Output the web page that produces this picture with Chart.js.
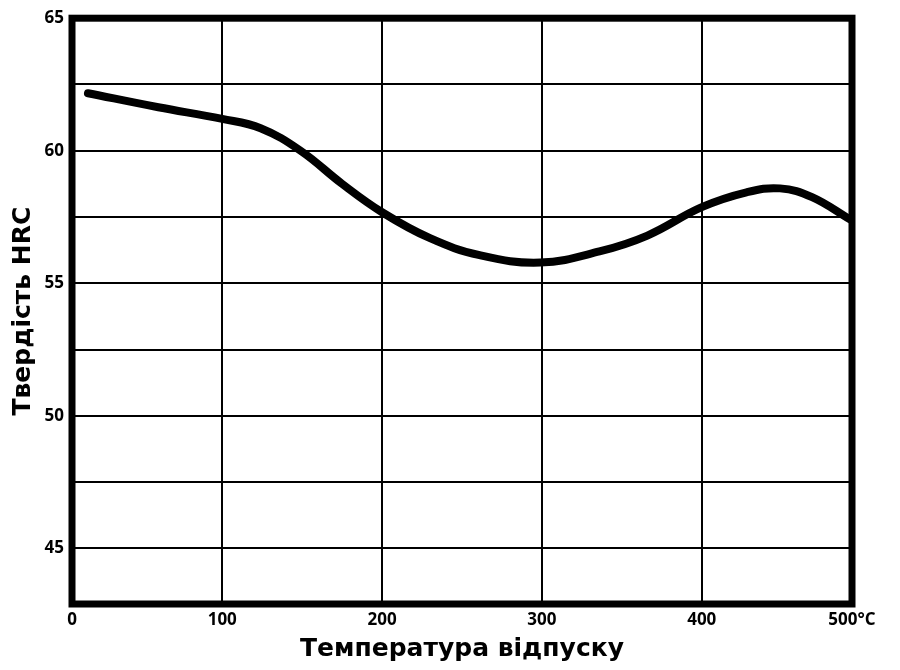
<!DOCTYPE html>
<html>
<head>
<meta charset="utf-8">
<script src="https://cdn.jsdelivr.net/npm/chart.js@4.4.1/dist/chart.umd.min.js"></script>
<style>
html, body { margin: 0; padding: 0; background: #fff; }
</style>
</head>
<body>
<canvas id="hardness-chart" width="900" height="670"></canvas>
<script>
// Tempering curve: hardness vs temperature
const temps = [16, 60, 100, 124, 149, 175, 200, 230, 261, 299, 336, 366, 400, 428, 449, 469, 493];
const hrc = [62.17, 61.64, 61.2, 60.85, 60.0, 58.75, 57.68, 56.7, 56.06, 55.78, 56.2, 56.8, 57.87, 58.43, 58.58, 58.25, 57.4];

const xTickValues = [6, 100, 200, 300, 400, 494];
const xTickLabels = ['0', '100', '200', '300', '400', '500°C'];
const yTickValues = [45, 47.5, 50, 52.5, 55, 57.5, 60, 62.5, 65];
const yTickLabels = ['45', '', '50', '', '55', '', '60', '', '65'];

// thick frame round the plot area
const framePlugin = {
    id: 'frame',
    beforeDatasetsDraw(chart) {
        const { ctx, chartArea } = chart;
        ctx.save();
        ctx.strokeStyle = '#000';
        ctx.lineWidth = 7;
        ctx.strokeRect(chartArea.left, chartArea.top, chartArea.right - chartArea.left, chartArea.bottom - chartArea.top);
        ctx.restore();
    }
};

const tickFont = { family: "'Open Sans'", size: 17, weight: 'bold' };
const titleFont = { family: "'DejaVu Sans'", size: 25, weight: 'bold' };

new Chart(document.getElementById('hardness-chart'), {
    type: 'line',
    data: {
        datasets: [{
            data: temps.map((t, i) => ({ x: t, y: hrc[i] })),
            borderColor: '#000',
            borderWidth: 8,
            borderCapStyle: 'round',
            pointRadius: 0,
            tension: 0.4,
            fill: false,
        }]
    },
    options: {
        responsive: false,
        animation: false,
        layout: {
            padding: { left: 8, right: 48, top: 18, bottom: 6 }
        },
        plugins: {
            legend: { display: false },
            tooltip: { enabled: false },
        },
        scales: {
            x: {
                type: 'linear',
                min: 6,
                max: 494,
                afterBuildTicks: (scale) => {
                    scale.ticks = xTickValues.map(v => ({ value: v }));
                },
                afterFit: (scale) => { scale.height = 60; },
                ticks: {
                    color: '#000',
                    font: tickFont,
                    padding: 6,
                    maxRotation: 0,
                    autoSkip: false,
                    callback: (v, i) => xTickLabels[i],
                },
                grid: {
                    color: '#000',
                    lineWidth: 2,
                    drawTicks: false,
                },
                border: { display: false },
                title: {
                    display: true,
                    text: 'Температура відпуску',
                    color: '#000',
                    font: titleFont,
                    padding: 0,
                },
            },
            y: {
                min: 42.9,
                max: 65,
                afterBuildTicks: (scale) => {
                    scale.ticks = yTickValues.map(v => ({ value: v }));
                },
                afterFit: (scale) => { scale.width = 64; },
                ticks: {
                    color: '#000',
                    font: tickFont,
                    padding: 8,
                    autoSkip: false,
                    callback: (v, i) => yTickLabels[i],
                },
                grid: {
                    color: '#000',
                    lineWidth: 2,
                    drawTicks: false,
                },
                border: { display: false },
                title: {
                    display: true,
                    text: 'Твердість HRC',
                    color: '#000',
                    font: titleFont,
                    padding: 0,
                },
            }
        }
    },
    plugins: [framePlugin]
});
</script>
</body>
</html>
